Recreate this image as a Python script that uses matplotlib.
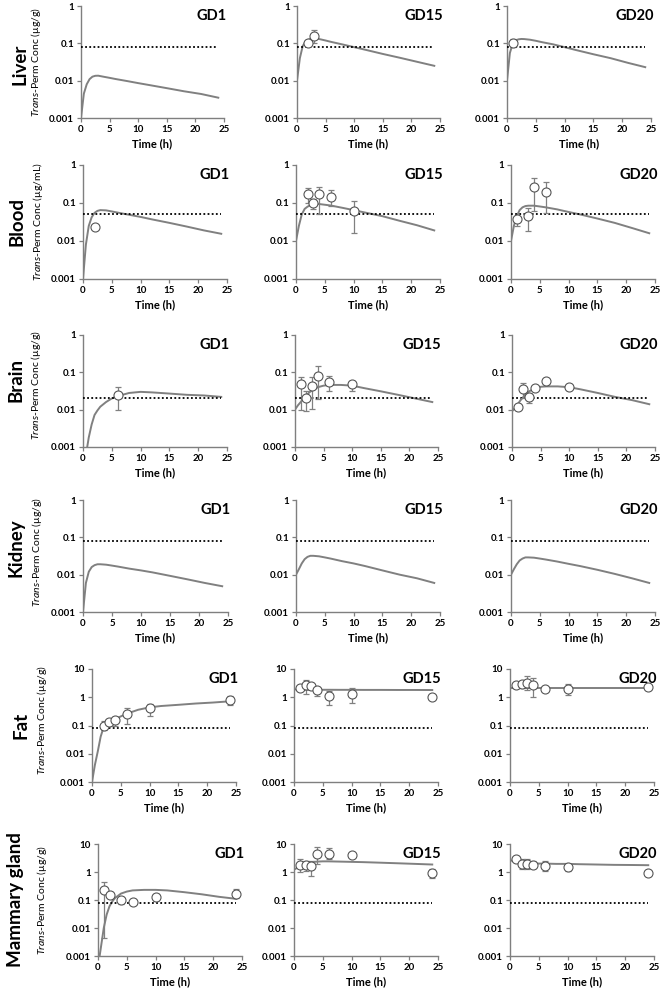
import matplotlib
matplotlib.use("Agg")
import matplotlib.pyplot as plt
from matplotlib.ticker import NullLocator, FixedLocator, FixedFormatter
import numpy as np

plt.rcParams['font.family'] = ['Lato', 'DejaVu Sans']
plt.rcParams['mathtext.fontset'] = 'custom'
plt.rcParams['mathtext.it'] = 'Lato:italic'
plt.rcParams['mathtext.rm'] = 'Lato'

# ---------------- data ----------------
tissues = ["Liver", "Blood", "Brain", "Kidney", "Fat", "Mammary gland"]
units = ["(µg/g)", "(µg/mL)", "(µg/g)", "(µg/g)", "(µg/g)", "(µg/g)"]
days = ["GD1", "GD15", "GD20"]
loq = [0.08, 0.05, 0.02, 0.08, 0.08, 0.08]
ytop = [1, 1, 1, 1, 10, 10]

t_model = [0, 0.5, 1, 1.5, 2, 2.5, 3, 4, 5, 6, 8, 10, 12, 15, 18, 21, 24]

liver_gd1 = [0.001, 0.0045, 0.008, 0.011, 0.0128, 0.0135, 0.0136, 0.0127, 0.0119, 0.0111, 0.0098, 0.0086, 0.0076, 0.0063, 0.0052, 0.0044, 0.0035]
liver_gd15 = [0.01, 0.04, 0.085, 0.11, 0.125, 0.135, 0.14, 0.129, 0.119, 0.109, 0.093, 0.079, 0.067, 0.052, 0.041, 0.032, 0.025]
liver_gd20 = [0.01, 0.055, 0.1, 0.12, 0.128, 0.131, 0.13, 0.125, 0.117, 0.108, 0.094, 0.079, 0.066, 0.051, 0.040, 0.030, 0.023]
blood_gd1 = [0.001, 0.008, 0.025, 0.042, 0.055, 0.062, 0.065, 0.064, 0.06, 0.056, 0.049, 0.043, 0.037, 0.030, 0.024, 0.019, 0.0155]
blood_gd15 = [0.01, 0.025, 0.05, 0.07, 0.08, 0.088, 0.092, 0.094, 0.09, 0.086, 0.075, 0.065, 0.056, 0.045, 0.034, 0.026, 0.019]
blood_gd20 = [0.01, 0.025, 0.045, 0.065, 0.077, 0.083, 0.085, 0.085, 0.081, 0.077, 0.068, 0.058, 0.05, 0.039, 0.030, 0.022, 0.016]
brain_gd1 = [0.0002, 0.0006, 0.0018, 0.004, 0.0072, 0.0095, 0.012, 0.016, 0.02, 0.023, 0.028, 0.03, 0.029, 0.027, 0.025, 0.024, 0.022]
brain_gd15 = [0.01, 0.013, 0.016, 0.02, 0.024, 0.029, 0.033, 0.04, 0.044, 0.046, 0.046, 0.044, 0.038, 0.031, 0.025, 0.02, 0.016]
brain_gd20 = [0.009, 0.011, 0.014, 0.018, 0.022, 0.027, 0.031, 0.037, 0.041, 0.042, 0.042, 0.04, 0.035, 0.028, 0.022, 0.018, 0.014]
kidney_gd1 = [0.001, 0.006, 0.012, 0.016, 0.018, 0.019, 0.019, 0.0185, 0.0175, 0.0165, 0.0145, 0.013, 0.0115, 0.0093, 0.0075, 0.006, 0.0049]
kidney_gd15 = [0.01, 0.014, 0.02, 0.026, 0.03, 0.032, 0.032, 0.031, 0.029, 0.027, 0.023, 0.02, 0.017, 0.013, 0.01, 0.008, 0.006]
kidney_gd20 = [0.01, 0.014, 0.019, 0.024, 0.027, 0.029, 0.029, 0.0285, 0.027, 0.0255, 0.0225, 0.0195, 0.017, 0.0135, 0.0105, 0.008, 0.006]
fat_gd1 = [0.001, 0.004, 0.012, 0.04, 0.085, 0.11, 0.13, 0.165, 0.21, 0.26, 0.36, 0.44, 0.49, 0.54, 0.6, 0.65, 0.72]
fat_gd15 = [1.9, 1.88, 1.87, 1.86, 1.85, 1.85, 1.85, 1.85, 1.84, 1.84, 1.83, 1.83, 1.82, 1.82, 1.81, 1.81, 1.8]
fat_gd20 = [2.2, 2.2, 2.2, 2.2, 2.2, 2.2, 2.2, 2.2, 2.2, 2.2, 2.2, 2.2, 2.2, 2.2, 2.2, 2.2, 2.2]
mam_gd1 = [0.0004, 0.002, 0.01, 0.03, 0.06, 0.09, 0.12, 0.17, 0.2, 0.22, 0.23, 0.23, 0.22, 0.19, 0.16, 0.13, 0.11]
mam_gd15 = [1.2, 1.4, 1.6, 1.8, 2.0, 2.15, 2.25, 2.35, 2.4, 2.4, 2.35, 2.3, 2.25, 2.15, 2.05, 1.95, 1.85]
mam_gd20 = [2.6, 2.5, 2.4, 2.3, 2.2, 2.15, 2.1, 2.05, 2.0, 2.0, 1.95, 1.95, 1.9, 1.85, 1.8, 1.78, 1.75]

# observations: time, mean, lower, upper
liver_gd15_t = [2, 3]; liver_gd15_y = [0.1, 0.16]; liver_gd15_lo = [0.09, 0.1]; liver_gd15_hi = [0.11, 0.23]
liver_gd20_t = [1]; liver_gd20_y = [0.1]; liver_gd20_lo = [0.08]; liver_gd20_hi = [0.13]
blood_gd1_t = [2]; blood_gd1_y = [0.023]; blood_gd1_lo = [0.023]; blood_gd1_hi = [0.023]
blood_gd15_t = [2, 3, 4, 6, 10]; blood_gd15_y = [0.17, 0.098, 0.17, 0.145, 0.063]
blood_gd15_lo = [0.1, 0.07, 0.05, 0.083, 0.016]; blood_gd15_hi = [0.25, 0.13, 0.27, 0.22, 0.11]
blood_gd20_t = [1, 3, 4, 6]; blood_gd20_y = [0.037, 0.045, 0.27, 0.2]
blood_gd20_lo = [0.025, 0.018, 0.06, 0.055]; blood_gd20_hi = [0.045, 0.075, 0.45, 0.35]
brain_gd1_t = [6]; brain_gd1_y = [0.024]; brain_gd1_lo = [0.01]; brain_gd1_hi = [0.04]
brain_gd15_t = [1, 2, 3, 4, 6, 10]; brain_gd15_y = [0.049, 0.02, 0.044, 0.082, 0.054, 0.048]
brain_gd15_lo = [0.01, 0.009, 0.0105, 0.019, 0.032, 0.032]; brain_gd15_hi = [0.074, 0.031, 0.074, 0.15, 0.078, 0.06]
brain_gd20_t = [1, 2, 3, 4, 6, 10]; brain_gd20_y = [0.012, 0.035, 0.022, 0.038, 0.057, 0.041]
brain_gd20_lo = [0.011, 0.02, 0.015, 0.034, 0.05, 0.038]; brain_gd20_hi = [0.013, 0.052, 0.028, 0.042, 0.066, 0.044]
fat_gd1_t = [2, 3, 4, 6, 10, 24]; fat_gd1_y = [0.095, 0.13, 0.16, 0.25, 0.41, 0.8]
fat_gd1_lo = [0.07, 0.1, 0.1, 0.11, 0.22, 0.53]; fat_gd1_hi = [0.14, 0.16, 0.2, 0.4, 0.6, 1.1]
fat_gd15_t = [1, 2, 3, 4, 6, 10, 24]; fat_gd15_y = [2.15, 2.7, 2.6, 1.78, 1.15, 1.32, 1.0]
fat_gd15_lo = [2.0, 1.35, 2.2, 1.1, 0.52, 0.63, 1.0]; fat_gd15_hi = [2.3, 4.0, 3.0, 2.3, 1.7, 2.15, 1.0]
fat_gd20_t = [1, 2, 3, 4, 6, 10, 24]; fat_gd20_y = [2.8, 3.0, 3.2, 2.7, 2.0, 2.0, 2.4]
fat_gd20_lo = [2.5, 2.2, 1.8, 1.0, 1.6, 1.2, 2.4]; fat_gd20_hi = [3.1, 3.8, 5.5, 5.0, 2.4, 3.0, 2.4]
mam_gd1_t = [1, 2, 4, 6, 10, 24]; mam_gd1_y = [0.22, 0.148, 0.1, 0.083, 0.125, 0.17]
mam_gd1_lo = [0.0043, 0.14, 0.074, 0.083, 0.09, 0.12]; mam_gd1_hi = [0.45, 0.16, 0.13, 0.083, 0.17, 0.25]
mam_gd15_t = [1, 2, 3, 4, 6, 10, 24]; mam_gd15_y = [1.8, 1.8, 1.7, 4.5, 4.5, 4.0, 0.95]
mam_gd15_lo = [1.0, 1.1, 0.7, 2.0, 3.0, 4.0, 0.6]; mam_gd15_hi = [3.0, 2.5, 2.5, 8.0, 7.0, 4.0, 1.3]
mam_gd20_t = [1, 2, 3, 4, 6, 10, 24]; mam_gd20_y = [3.0, 2.0, 1.9, 1.8, 1.7, 1.5, 0.95]
mam_gd20_lo = [2.8, 1.3, 1.3, 1.4, 1.1, 1.1, 0.95]; mam_gd20_hi = [3.2, 2.8, 2.8, 2.4, 2.5, 2.0, 0.95]

models = [
    [liver_gd1, liver_gd15, liver_gd20],
    [blood_gd1, blood_gd15, blood_gd20],
    [brain_gd1, brain_gd15, brain_gd20],
    [kidney_gd1, kidney_gd15, kidney_gd20],
    [fat_gd1, fat_gd15, fat_gd20],
    [mam_gd1, mam_gd15, mam_gd20],
]
obs = [
    [None, (liver_gd15_t, liver_gd15_y, liver_gd15_lo, liver_gd15_hi), (liver_gd20_t, liver_gd20_y, liver_gd20_lo, liver_gd20_hi)],
    [(blood_gd1_t, blood_gd1_y, blood_gd1_lo, blood_gd1_hi), (blood_gd15_t, blood_gd15_y, blood_gd15_lo, blood_gd15_hi), (blood_gd20_t, blood_gd20_y, blood_gd20_lo, blood_gd20_hi)],
    [(brain_gd1_t, brain_gd1_y, brain_gd1_lo, brain_gd1_hi), (brain_gd15_t, brain_gd15_y, brain_gd15_lo, brain_gd15_hi), (brain_gd20_t, brain_gd20_y, brain_gd20_lo, brain_gd20_hi)],
    [None, None, None],
    [(fat_gd1_t, fat_gd1_y, fat_gd1_lo, fat_gd1_hi), (fat_gd15_t, fat_gd15_y, fat_gd15_lo, fat_gd15_hi), (fat_gd20_t, fat_gd20_y, fat_gd20_lo, fat_gd20_hi)],
    [(mam_gd1_t, mam_gd1_y, mam_gd1_lo, mam_gd1_hi), (mam_gd15_t, mam_gd15_y, mam_gd15_lo, mam_gd15_hi), (mam_gd20_t, mam_gd20_y, mam_gd20_lo, mam_gd20_hi)],
]

# ---------------- layout (pixels) ----------------
W, H = 668, 991
row_y = [(6, 118), (165, 279), (335, 447), (500, 612), (669, 782), (844, 956)]
col_x = [
    [(81, 224), (297, 440), (507, 651)],
    [(83, 227), (296, 440), (511, 655)],
    [(83, 227), (295, 438), (512, 655)],
    [(83, 228), (296, 440), (511, 655)],
    [(92, 236), (294, 438), (510, 654)],
    [(98, 242), (294, 438), (510, 654)],
]
row_label_pos = [(20, 64), (17, 222), (16, 380), (16, 548), (21, 725), (16, 900)]
ylabel_pos = [(36, 62), (38, 222), (36, 385), (37, 552), (42, 720), (42, 900)]

fig = plt.figure(figsize=(W / 100, H / 100), dpi=100)
AX = '#7f7f7f'
LINE = '#808080'

for r in range(6):
    yt, yb = row_y[r]
    for c in range(3):
        x0, x1 = col_x[r][c]
        ax = fig.add_axes([x0 / W, 1 - yb / H, (x1 - x0) / W, (yb - yt) / H])
        ax.set_yscale('log')
        ax.set_xlim(0, 25)
        ax.set_ylim(0.001, ytop[r])
        ax.plot(t_model, models[r][c], color=LINE, lw=1.4, zorder=2)
        ax.plot([0, 24], [loq[r], loq[r]], color='black', lw=1.3,
                ls=(0, (1, 1.3)), zorder=3)
        o = obs[r][c]
        if o is not None:
            t, y, lo, hi = (np.array(v, dtype=float) for v in o)
            ax.errorbar(t, y, yerr=[y - lo, hi - y], fmt='none', ecolor=LINE,
                        elinewidth=0.9, capsize=2.5, capthick=0.9, zorder=4)
            ax.plot(t, y, 'o', ms=6.5, mfc='white', mec='#555555', mew=0.8,
                    zorder=5, clip_on=False)
        for s in ['top', 'right']:
            ax.spines[s].set_visible(False)
        for s in ['left', 'bottom']:
            ax.spines[s].set_color(AX)
            ax.spines[s].set_linewidth(1.0)
        yt_vals = [0.001, 0.01, 0.1, 1] + ([10] if ytop[r] == 10 else [])
        yt_labs = ['0.001', '0.01', '0.1', '1'] + (['10'] if ytop[r] == 10 else [])
        ax.yaxis.set_major_locator(FixedLocator(yt_vals))
        ax.yaxis.set_major_formatter(FixedFormatter(yt_labs))
        ax.yaxis.set_minor_locator(NullLocator())
        ax.set_xticks([0, 5, 10, 15, 20, 25])
        ax.tick_params(axis='both', direction='out', length=3, width=0.9,
                       color=AX, labelsize=7, pad=2)
        for lab in ax.get_xticklabels() + ax.get_yticklabels():
            lab.set_fontweight('bold')
        ax.set_xlabel('Time (h)', fontsize=8, fontweight='bold', labelpad=3)
        ax.text(1.02, 0.91, days[c], transform=ax.transAxes, ha='right',
                va='center', fontsize=10.5, fontweight='bold')
    # row label
    lx, ly = row_label_pos[r]
    fig.text(lx / W, 1 - ly / H, tissues[r], rotation=90, ha='center',
             va='center', fontsize=13.5, fontweight='bold')
    yx, yy = ylabel_pos[r]
    fig.text(yx / W, 1 - yy / H, r'$\mathit{Trans}$-Perm Conc ' + units[r],
             rotation=90, ha='center', va='center', fontsize=7.5)

fig.savefig('out.png', dpi=100)
